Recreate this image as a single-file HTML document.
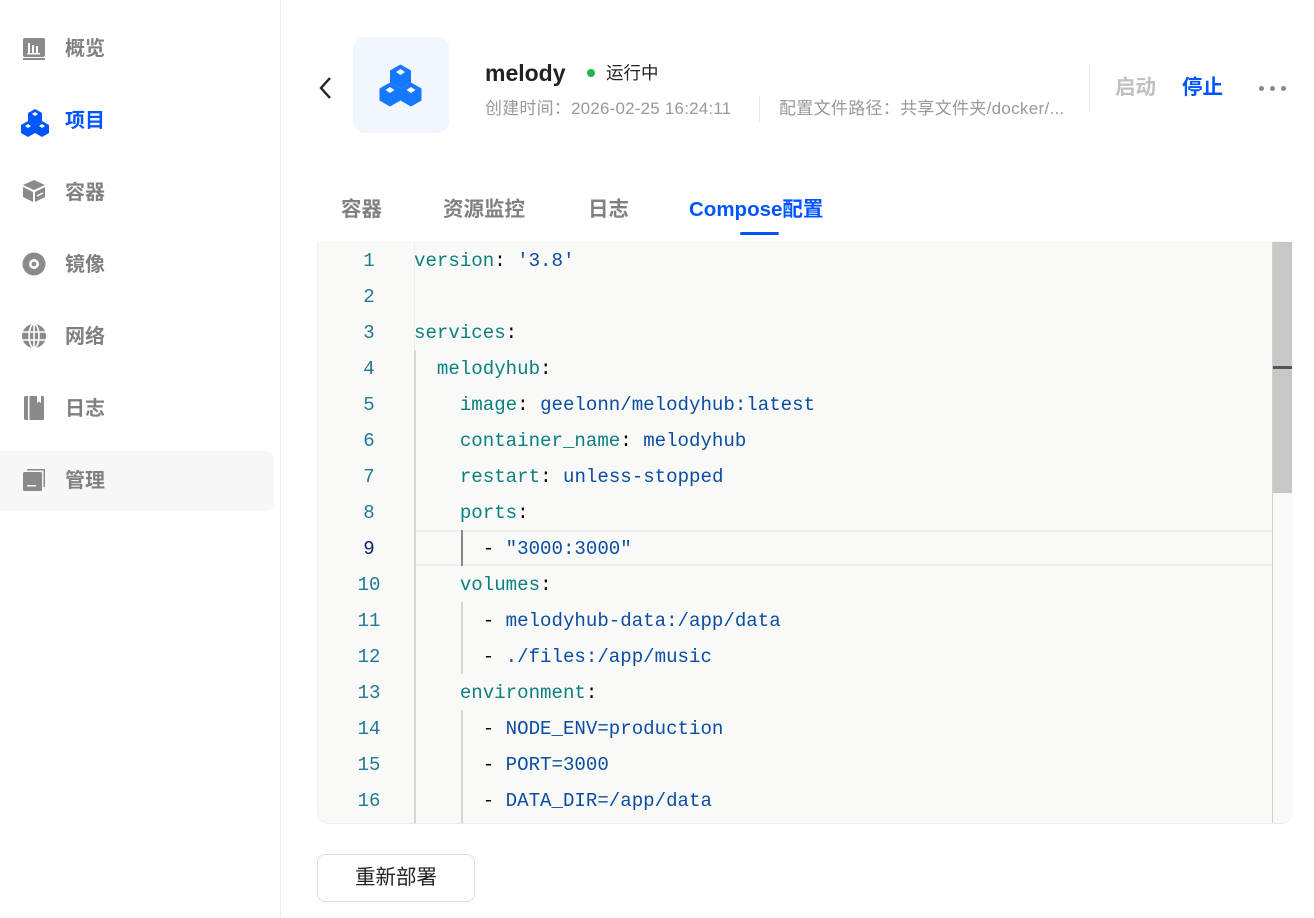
<!DOCTYPE html>
<html><head><meta charset="utf-8"><style>
*{margin:0;padding:0;box-sizing:border-box}
body{width:1314px;height:918px;background:#fff;position:relative;overflow:hidden;font-family:"Liberation Sans","Noto Sans CJK SC",sans-serif}
.a{position:absolute;white-space:nowrap}
.nav{position:absolute;left:65px;font-size:20px;font-weight:bold;color:#808080;line-height:28px}
.ic{position:absolute;left:22px;width:24px;height:24px}
.ln{position:absolute;width:60px;text-align:center;left:339px;color:#237893;font-family:"Liberation Mono",monospace;font-size:19px;line-height:36px;top:1px}
.cl{position:absolute;left:414px;line-height:36px;white-space:pre;font-family:"Liberation Mono",monospace;font-size:19.1px;color:#000}
.k{color:#0b8080}.v{color:#0b4da2}
.g{position:absolute;width:1px;background:#d4d4d4}
.tab{position:absolute;top:196px;font-size:20.5px;font-weight:bold;color:#808080;line-height:28px}
</style></head><body>
<div class="a" style="left:280px;top:0;width:1px;height:918px;background:#ececec"></div>
<div class="a" style="left:0;top:451px;width:274px;height:60px;background:#f7f7f7;border-radius:0 8px 8px 0"></div>

<svg class="ic" style="top:37px" viewBox="0 0 24 24"><rect x="1" y="1" width="22" height="19" rx="2" fill="#8a8a8a"/><rect x="6" y="6" width="2" height="10" fill="#fff"/><rect x="10" y="8" width="2" height="8" fill="#fff"/><rect x="14" y="9" width="2" height="7" fill="#fff"/><rect x="5" y="16" width="13" height="1.5" fill="#fff"/><rect x="1" y="21" width="22" height="2" fill="#8a8a8a"/></svg>
<div class="nav" style="top:35px">概览</div>

<svg class="ic" style="top:108px;left:20px;width:30px;height:30px" viewBox="0 0 30 30"><g fill="#0055ff"><path d="M15 1l7 4v8l-7 4-7-4V5z"/><path d="M8 13l7 4v8l-7 4-7-4v-8z"/><path d="M22 13l7 4v8l-7 4-7-4v-8z"/></g><g fill="#fff"><path d="M15 4l3 2-3 2-3-2z"/><path d="M8 16l3 2-3 2-3-2z"/><path d="M22 16l3 2-3 2-3-2z"/></g></svg>
<div class="nav" style="top:107px;color:#0055ff">项目</div>

<svg class="ic" style="top:179px" viewBox="0 0 24 24"><path d="M12 1l11 5-11 5L1 6z" fill="#8a8a8a"/><path d="M1 8l10 5v10L1 18z" fill="#8a8a8a"/><path d="M23 8l-10 5v10l10-5z" fill="#8a8a8a"/><path d="M15 17l6-3" stroke="#fff" stroke-width="1.5"/></svg>
<div class="nav" style="top:179px">容器</div>

<svg class="ic" style="top:252px" viewBox="0 0 24 24"><circle cx="12" cy="12" r="11.5" fill="#8a8a8a"/><circle cx="12" cy="12" r="5" fill="#fff"/><circle cx="12" cy="12" r="2.3" fill="#8a8a8a"/></svg>
<div class="nav" style="top:251px">镜像</div>

<svg class="ic" style="top:324px" viewBox="0 0 24 24"><circle cx="12" cy="12" r="12" fill="#8a8a8a"/><g stroke="#fff" stroke-width="1.6" fill="none"><ellipse cx="12" cy="12" rx="5" ry="12"/><path d="M0 8h24M0 16h24M12 0v24"/></g></svg>
<div class="nav" style="top:323px">网络</div>

<svg class="ic" style="top:396px" viewBox="0 0 24 24"><rect x="2" y="0" width="20" height="24" rx="1.5" fill="#8a8a8a"/><rect x="6" y="0" width="1.5" height="24" fill="#fff"/><path d="M15 0h4v7l-2-1.5-2 1.5z" fill="#fff"/></svg>
<div class="nav" style="top:395px">日志</div>

<svg class="ic" style="top:468px" viewBox="0 0 24 24"><path d="M5 1h18v18h-1.5V2.5H5z" fill="#8a8a8a"/><rect x="1" y="4" width="19" height="19" rx="1.5" fill="#8a8a8a"/><rect x="5" y="17" width="9" height="1.5" fill="#fff"/></svg>
<div class="nav" style="top:467px">管理</div>

<svg class="a" style="left:318px;top:76px" width="14" height="24" viewBox="0 0 14 24"><path d="M12 2L3 12l9 10" stroke="#222" stroke-width="2.4" fill="none"/></svg>
<div class="a" style="left:353px;top:37px;width:96px;height:96px;background:#f1f6ff;border-radius:12px"></div>
<svg class="a" style="left:378px;top:63px" width="45" height="45" viewBox="0 0 30 30"><g fill="#1677ff"><path d="M15 1l7 4v8l-7 4-7-4V5z"/><path d="M8 13l7 4v8l-7 4-7-4v-8z"/><path d="M22 13l7 4v8l-7 4-7-4v-8z"/></g><g fill="#fff"><path d="M15 4l3 2-3 2-3-2z"/><path d="M8 16l3 2-3 2-3-2z"/><path d="M22 16l3 2-3 2-3-2z"/></g></svg>
<div class="a" style="left:485px;top:58px;font-size:23px;font-weight:bold;color:#222;line-height:30px">melody</div>
<div class="a" style="left:587px;top:69px;width:8px;height:8px;border-radius:50%;background:#22b14c"></div>
<div class="a" style="left:606px;top:62px;font-size:17.5px;color:#222;line-height:22px">运行中</div>
<div class="a" style="left:485px;top:98px;font-size:17px;color:#999;line-height:22px;letter-spacing:0.2px">创建时间：2026-02-25 16:24:11</div>
<div class="a" style="left:759px;top:96px;width:1px;height:26px;background:#e8e8e8"></div>
<div class="a" style="left:779px;top:98px;font-size:17px;color:#999;line-height:22px;letter-spacing:0.3px">配置文件路径：共享文件夹/docker/...</div>
<div class="a" style="left:1089px;top:64px;width:1px;height:48px;background:#e8e8e8"></div>
<div class="a" style="left:1115px;top:74px;font-size:20.5px;font-weight:bold;color:#c0c0c0;line-height:28px">启动</div>
<div class="a" style="left:1182px;top:74px;font-size:20.5px;font-weight:bold;color:#0055ff;line-height:28px">停止</div>
<div class="a" style="left:1259px;top:86px;width:5px;height:5px;border-radius:50%;background:#888"></div>
<div class="a" style="left:1270px;top:86px;width:5px;height:5px;border-radius:50%;background:#888"></div>
<div class="a" style="left:1281px;top:86px;width:5px;height:5px;border-radius:50%;background:#888"></div>

<div class="tab" style="left:341px">容器</div>
<div class="tab" style="left:443px">资源监控</div>
<div class="tab" style="left:588px">日志</div>
<div class="tab" style="left:689px;color:#0055ff">Compose配置</div>
<div class="a" style="left:740px;top:232px;width:39px;height:3px;background:#0055ff;border-radius:2px"></div>

<div class="a" style="left:317px;top:241px;width:976px;height:583px;background:#f9f9f8;border-radius:0 0 12px 12px;border-bottom:1px solid #ececec;border-left:1px solid #f0f0f0"></div>
<div class="a" style="left:415px;top:530px;width:857px;height:36px;border-top:2px solid #ebebeb;border-bottom:2px solid #ebebeb"></div>
<div class="g" style="left:414px;top:242px;height:108px;background:#eeeeee"></div>
<div class="g" style="left:414px;top:350px;height:473px;width:2px;background:#d6d6d6"></div>
<div class="g" style="left:461px;top:530px;height:36px;width:2px;background:#888"></div>
<div class="g" style="left:461px;top:602px;height:72px;width:2px;background:#d6d6d6"></div>
<div class="g" style="left:461px;top:710px;height:113px;width:2px;background:#d6d6d6"></div>
<div class="a" style="left:1272px;top:242px;width:20px;height:251px;background:#c8c8c6"></div>
<div class="a" style="left:1272px;top:242px;width:1px;height:581px;background:#cfcfcf"></div>
<div class="a" style="left:1273px;top:366px;width:19px;height:3px;background:#555"></div>

<div class="ln" style="top:243px">1</div>
<div class="ln" style="top:279px">2</div>
<div class="ln" style="top:315px">3</div>
<div class="ln" style="top:351px">4</div>
<div class="ln" style="top:387px">5</div>
<div class="ln" style="top:423px">6</div>
<div class="ln" style="top:459px">7</div>
<div class="ln" style="top:495px">8</div>
<div class="ln" style="top:531px;color:#0b216f">9</div>
<div class="ln" style="top:567px">10</div>
<div class="ln" style="top:603px">11</div>
<div class="ln" style="top:639px">12</div>
<div class="ln" style="top:675px">13</div>
<div class="ln" style="top:711px">14</div>
<div class="ln" style="top:747px">15</div>
<div class="ln" style="top:783px">16</div>

<div class="cl" style="top:243px"><span class="k">version</span>: <span class="v">'3.8'</span></div>
<div class="cl" style="top:315px"><span class="k">services</span>:</div>
<div class="cl" style="top:351px">  <span class="k">melodyhub</span>:</div>
<div class="cl" style="top:387px">    <span class="k">image</span>: <span class="v">geelonn/melodyhub:latest</span></div>
<div class="cl" style="top:423px">    <span class="k">container_name</span>: <span class="v">melodyhub</span></div>
<div class="cl" style="top:459px">    <span class="k">restart</span>: <span class="v">unless-stopped</span></div>
<div class="cl" style="top:495px">    <span class="k">ports</span>:</div>
<div class="cl" style="top:531px">      - <span class="v">"3000:3000"</span></div>
<div class="cl" style="top:567px">    <span class="k">volumes</span>:</div>
<div class="cl" style="top:603px">      - <span class="v">melodyhub-data:/app/data</span></div>
<div class="cl" style="top:639px">      - <span class="v">./files:/app/music</span></div>
<div class="cl" style="top:675px">    <span class="k">environment</span>:</div>
<div class="cl" style="top:711px">      - <span class="v">NODE_ENV=production</span></div>
<div class="cl" style="top:747px">      - <span class="v">PORT=3000</span></div>
<div class="cl" style="top:783px">      - <span class="v">DATA_DIR=/app/data</span></div>

<div class="a" style="left:317px;top:854px;width:158px;height:48px;border:1px solid #dcdcdc;border-radius:8px;text-align:center;line-height:46px;font-size:20.5px;color:#222">重新部署</div>
</body></html>
